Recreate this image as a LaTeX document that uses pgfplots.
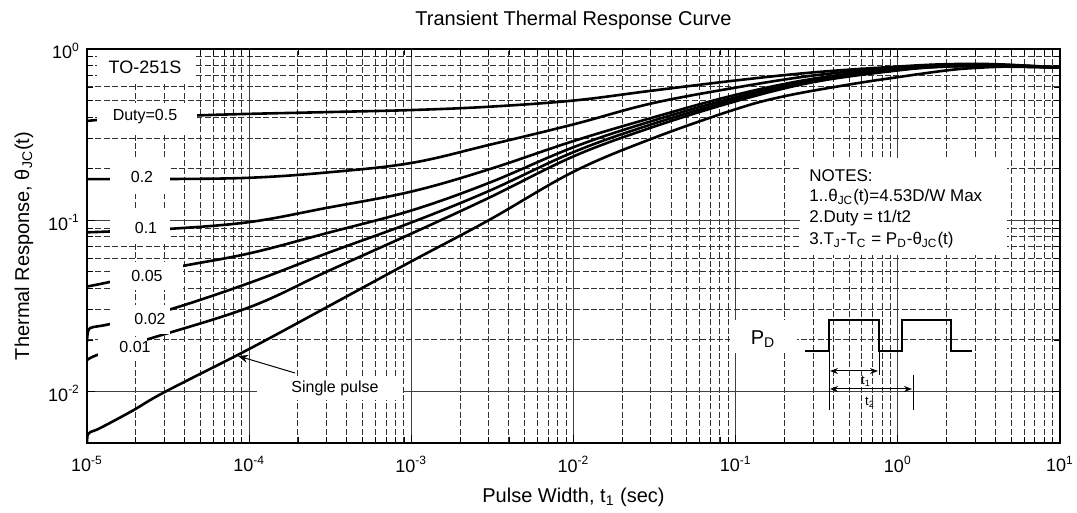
\documentclass[border=0pt]{standalone}
\usepackage{pgfplots}
\pgfplotsset{compat=1.18}
\usepackage{fontspec}
\setmainfont{Liberation Sans}
\usetikzlibrary{arrows.meta}

\begin{document}
\begin{tikzpicture}
\useasboundingbox (-43.5pt,-35pt) rectangle (495pt,221.5pt);
\begin{axis}[
  name=ax,
  at={(0,0)}, anchor=south west,
  scale only axis,
  width=486.5pt, height=197pt,
  xmode=log, ymode=log,
  xmin=1e-5, xmax=10, ymin=0.005, ymax=1,
  xtick={1e-5,1e-4,1e-3,1e-2,1e-1,1,10},
  xticklabels={10\textsuperscript{-5},10\textsuperscript{-4},10\textsuperscript{-3},10\textsuperscript{-2},10\textsuperscript{-1},10\textsuperscript{0},10\textsuperscript{1}},
  ytick={0.01,0.1,1},
  yticklabels={10\textsuperscript{-2},10\textsuperscript{-1},10\textsuperscript{0}},
  grid=both,
  major grid style={black!75, line width=0.5pt},
  minor grid style={black!80, line width=0.5pt, dash pattern=on 3pt off 1.2pt},
  axis line style={line width=0.8pt},
  tick style={black, line width=0.4pt},
  minor tick length=3pt, major tick length=4pt,
  ticklabel style={font=\fontsize{9}{10}\selectfont},
  xticklabel style={yshift=-3pt},
  yticklabel style={yshift=-1pt},
  every axis title shift=0pt,
  title={Transient Thermal Response Curve},
  title style={at={(rel axis cs:0.5,1.0736)}, anchor=center, font=\fontsize{10}{12}\selectfont},
  xlabel={Pulse Width, t\textsubscript{1} (sec)},
  xlabel style={at={(rel axis cs:0.5,-0.137)}, anchor=center, font=\fontsize{10}{12}\selectfont},
  ylabel={Thermal Response, θ\textsubscript{JC}(t)},
  ylabel style={at={(rel axis cs:-0.0647,0.50)}, anchor=center, font=\fontsize{10}{12}\selectfont},
  curve/.style={black, solid, line width=1.3pt, smooth, tension=0.6, no markers},
]
% Duty = 0.5
\addplot[curve] coordinates {(1e-5,0.38)(1.2e-5,0.386)(2e-5,0.398)(5e-5,0.41)(1e-4,0.418)(3e-4,0.428)(1e-3,0.44)(3e-3,0.46)(1e-2,0.50)(3e-2,0.57)(0.1,0.655)(0.3,0.73)(1,0.79)(2,0.815)(4,0.815)(10,0.78)};
% Duty = 0.2
\addplot[curve] coordinates {(1e-5,0.174)(3e-5,0.174)(1e-4,0.177)(3e-4,0.190)(1e-3,0.216)(3e-3,0.275)(1e-2,0.363)(3e-2,0.48)(0.1,0.595)(0.3,0.70)(1,0.78)(2,0.81)(4,0.81)(10,0.78)};
% Duty = 0.1
\addplot[curve] coordinates {(1e-5,0.085)(1.4e-5,0.086)(3.2e-5,0.089)(1e-4,0.0975)(3e-4,0.118)(1e-3,0.147)(3e-3,0.198)(1e-2,0.29)(3e-2,0.395)(0.1,0.54)(0.3,0.67)(1,0.77)(2,0.80)(4,0.805)(10,0.78)};
% Duty = 0.05
\addplot[curve] coordinates {(1e-5,0.041)(1.4e-5,0.0437)(3.5e-5,0.053)(1e-4,0.064)(3e-4,0.084)(1e-3,0.114)(3e-3,0.165)(1e-2,0.267)(3e-2,0.378)(0.1,0.522)(0.3,0.66)(1,0.76)(2,0.795)(4,0.80)(10,0.78)};
% Duty = 0.02
\addplot[curve] coordinates {(1e-5,0.0195)(1.02e-5,0.0228)(1.1e-5,0.0238)(1.4e-5,0.0248)(3.2e-5,0.030)(1e-4,0.043)(3e-4,0.064)(1e-3,0.097)(3e-3,0.148)(1e-2,0.25)(3e-2,0.362)(0.1,0.507)(0.3,0.65)(1,0.755)(2,0.79)(4,0.795)(10,0.78)};
% Duty = 0.01
\addplot[curve] coordinates {(1e-5,0.0152)(1.17e-5,0.0164)(2.3e-5,0.020)(1e-4,0.031)(3e-4,0.050)(1e-3,0.0835)(3e-3,0.135)(1e-2,0.236)(3e-2,0.347)(0.1,0.495)(0.3,0.64)(1,0.75)(2,0.79)(4,0.79)(10,0.78)};
% Single pulse
\addplot[curve] coordinates {(1e-5,0.0050)(1.01e-5,0.0056)(1.05e-5,0.0058)(1.2e-5,0.0061)(1.9e-5,0.0077)(3e-5,0.0099)(1e-4,0.0177)(3e-4,0.031)(1e-3,0.0575)(3e-3,0.100)(1e-2,0.192)(3e-2,0.298)(0.1,0.445)(0.2,0.53)(0.5,0.62)(1,0.685)(2,0.75)(3,0.775)(5,0.79)(10,0.78)};
\end{axis}

\begin{scope}[shift={(-43.5pt,221.5pt)}, x=0.5pt, y=-0.5pt]
  % label boxes
  \fill[white] (97,50) rectangle (195,82);
  \node[font=\fontsize{9}{10}\selectfont] at (145,67) {TO-251S};
  \fill[white] (97,103) rectangle (197,133);
  \node[font=\fontsize{8}{9}\selectfont] at (145,117) {Duty=0.5};
  \fill[white] (110,160) rectangle (170,194);
  \node[font=\fontsize{8}{9}\selectfont] at (142,177) {0.2};
  \fill[white] (110,210) rectangle (170,243);
  \node[font=\fontsize{8}{9}\selectfont] at (146,228) {0.1};
  \fill[white] (110,262) rectangle (183,290);
  \node[font=\fontsize{8}{9}\selectfont] at (147,276) {0.05};
  \fill[white] (110,305) rectangle (170,334);
  \node[font=\fontsize{8}{9}\selectfont] at (150,319) {0.02};
  \fill[white] (98,337) rectangle (147,360);
  \node[font=\fontsize{8}{9}\selectfont] at (135,347) {0.01};
  % single pulse
  \fill[white] (257,378) rectangle (403,400);
  \node[font=\fontsize{8}{9}\selectfont] at (335,388) {Single pulse};
  \draw[line width=0.5pt, -{Stealth[length=5pt,width=4pt]}] (295,373) -- (238,356);
  % notes
  \fill[white] (800,158) rectangle (1007,255);
  \begin{scope}[every node/.style={anchor=west, inner sep=0pt, font=\fontsize{8.5}{10}\selectfont}]
    \node at (809,176) {NOTES:};
    \node at (809,197) {1..θ\textsubscript{JC}(t)=4.53D/W Max};
    \node at (809,218) {2.Duty = t1/t2};
    \node at (809,240) {3.T\textsubscript{J}-T\textsubscript{C} = P\textsubscript{D}-θ\textsubscript{JC}(t)};
  \end{scope}
  % P_D waveform
  \fill[white] (730,320) rectangle (797,353);
  \node[font=\fontsize{10}{12}\selectfont] at (763,339) {P\textsubscript{D}};
  \draw[line width=1pt] (805,351) -- (829,351) -- (829,320) -- (879,320) -- (879,351) -- (902,351) -- (902,320) -- (951,320) -- (951,351) -- (972,351);
  \draw[line width=0.5pt] (829,351) -- (829,410);
  \draw[line width=0.5pt] (879,351) -- (879,375);
  \draw[line width=0.5pt] (913,375) -- (913,410);
  \draw[line width=0.5pt, {Stealth[length=4pt,width=3pt]}-{Stealth[length=4pt,width=3pt]}] (830,371) -- (878,371);
  \draw[line width=0.5pt, {Stealth[length=4pt,width=3pt]}-{Stealth[length=4pt,width=3pt]}] (830,389) -- (912,389);
  \node[font=\fontsize{6.5}{8}\selectfont] at (866,381) {t\textsubscript{1}};
  \node[font=\fontsize{6.5}{8}\selectfont] at (870,402) {t\textsubscript{2}};
\end{scope}
\end{tikzpicture}
\end{document}
